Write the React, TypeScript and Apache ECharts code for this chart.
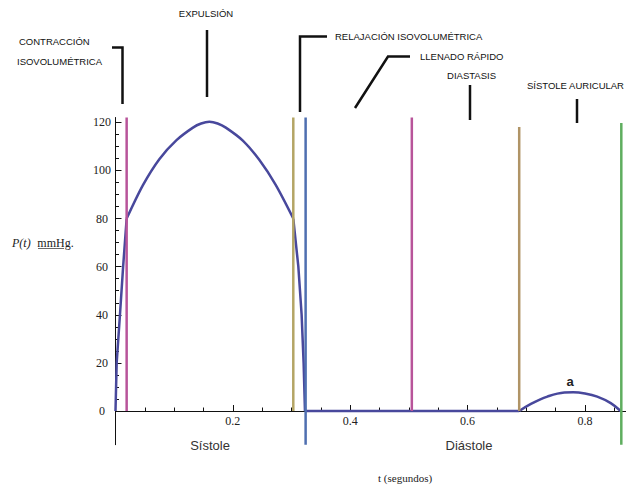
import React, { useEffect, useRef } from "react";
import * as echarts from "echarts";

// Pressure curve segments (t in s, P in mmHg)
const riseT = [0, 0.002, 0.0076, 0.013, 0.019];
const riseP = [0, 20, 40, 60, 80];
const ejectT = [0.019, 0.047, 0.075, 0.104, 0.132, 0.146, 0.16, 0.174, 0.188, 0.217, 0.245, 0.273, 0.303];
const ejectP = [80, 94, 104.8, 112.6, 117.8, 119.5, 120.2, 119.5, 117.8, 112.4, 104.4, 94, 80];
const fallT = [0.303, 0.3116, 0.3172, 0.3206, 0.3229];
const fallP = [80, 60, 40, 20, 0];
const flatT = [0.3229, 0.688];
const flatP = [0, 0];
const atrialT = [0.688, 0.708, 0.736, 0.765, 0.78, 0.8, 0.821, 0.844, 0.861];
const atrialP = [0, 3.0, 6.0, 7.7, 7.8, 7.3, 6.0, 3.3, 0];

// Phase boundary lines
const phaseT = [0.019, 0.303, 0.324, 0.505, 0.688, 0.862];
const phaseBottom = [0, 0, -14, 0, 0, -14];
const phaseTop = [122, 122, 122, 122, 118, 119.7];

// Axis ticks
const xMajorTicks = [0.2, 0.4, 0.6, 0.8];
const xMinorTicks = [0.05, 0.1, 0.15, 0.25, 0.3, 0.35, 0.45, 0.5, 0.55, 0.65, 0.7, 0.75, 0.85];
const yMajorTicks = [0, 20, 40, 60, 80, 100, 120];
const yMinorTicks = [5, 10, 15, 25, 30, 35, 45, 50, 55, 65, 70, 75, 85, 90, 95, 105, 110, 115];

const phaseColors = ["#b8549a", "#b4a565", "#4f6fb0", "#b8549a", "#b09466", "#5fae5f"];
const curveColor = "#48489c";

const zip = (a: number[], b: number[]) => a.map((v, i) => [v, b[i]]);

export default function App() {
  const ref = useRef<HTMLDivElement>(null);
  useEffect(() => {
    if (!ref.current) return;
    const chart = echarts.init(ref.current, null, { renderer: "svg" });
    const serif = '"Liberation Serif", "Times New Roman", serif';
    const sans = '"Liberation Sans", Arial, sans-serif';
    const curveSeries = [
      { d: zip(riseT, riseP), smooth: false },
      { d: zip(ejectT, ejectP), smooth: 0.3 },
      { d: zip(fallT, fallP), smooth: false },
      { d: zip(flatT, flatP), smooth: false },
      { d: zip(atrialT, atrialP), smooth: 0.4 },
    ].map((s) => ({
      type: "line",
      data: s.d,
      smooth: s.smooth,
      showSymbol: false,
      xAxisIndex: 0,
      yAxisIndex: 0,
      lineStyle: { color: curveColor, width: 2.5 },
      z: 2,
    }));
    const phaseSeries = phaseT.map((t, i) => ({
      type: "line",
      data: [
        [t, phaseBottom[i]],
        [t, phaseTop[i]],
      ],
      showSymbol: false,
      xAxisIndex: 0,
      yAxisIndex: 0,
      lineStyle: { color: phaseColors[i], width: 2.5 },
      z: 3,
    }));
    const annotStyle = { fill: "#111", fontSize: 9.5, fontFamily: sans };
    const line = (pts: number[][]) => ({
      type: "polyline",
      shape: { points: pts },
      style: { stroke: "#111", lineWidth: 2.5, fill: null },
    });
    const txt = (text: string, x: number, y: number, align = "left", extra: any = {}) => ({
      type: "text",
      x,
      y,
      style: { ...annotStyle, text, align, verticalAlign: "middle", ...extra },
    });
    chart.setOption({
      animation: false,
      backgroundColor: "#ffffff",
      grid: { left: 115.5, right: -2.8, top: 117.5, bottom: 50.3, containLabel: false },
      xAxis: [
        {
          type: "value",
          position: "bottom",
          min: 0,
          max: 0.87,
          axisLine: { onZero: true, lineStyle: { color: "#111", width: 1 } },
          axisTick: { customValues: xMajorTicks, inside: true, length: 6, lineStyle: { color: "#111" } },
          axisLabel: {
            customValues: xMajorTicks,
            formatter: (v: number) => v.toFixed(1),
            fontFamily: serif,
            fontSize: 12,
            color: "#222",
            margin: -29.5,
          },
          splitLine: { show: false },
        },
        {
          type: "value",
          position: "bottom",
          min: 0,
          max: 0.87,
          axisLine: { show: false, onZero: true },
          axisTick: { customValues: xMinorTicks, inside: true, length: 3.5, lineStyle: { color: "#111" } },
          axisLabel: { show: false },
          splitLine: { show: false },
        },
      ],
      yAxis: [
        {
          type: "value",
          position: "left",
          min: -14,
          max: 122,
          axisLine: { show: true, onZero: false, lineStyle: { color: "#111", width: 1 } },
          axisTick: { show: true, customValues: yMajorTicks, inside: true, length: 6, lineStyle: { color: "#111" } },
          axisLabel: {
            customValues: yMajorTicks,
            fontFamily: serif,
            fontSize: 12,
            color: "#222",
            align: "center",
            margin: 13.5,
          },
          splitLine: { show: false },
        },
        {
          type: "value",
          position: "left",
          min: -14,
          max: 122,
          axisLine: { show: false, onZero: false },
          axisTick: { show: true, customValues: yMinorTicks, inside: true, length: 3.5, lineStyle: { color: "#111" } },
          axisLabel: { show: false },
          splitLine: { show: false },
        },
      ],
      series: [...curveSeries, ...phaseSeries],
      graphic: [
        txt("CONTRACCIÓN", 19, 41),
        txt("ISOVOLUMÉTRICA", 17, 61),
        line([
          [112, 47.5],
          [122.5, 47.5],
          [122.5, 104],
        ]),
        txt("EXPULSIÓN", 206, 13.5, "center"),
        line([
          [207, 30],
          [207, 97],
        ]),
        txt("RELAJACIÓN ISOVOLUMÉTRICA", 335, 36),
        line([
          [327, 36.5],
          [300, 36.5],
          [300, 112],
        ]),
        txt("LLENADO RÁPIDO", 420, 56),
        line([
          [410, 56.5],
          [388, 56.5],
          [355, 108],
        ]),
        txt("DIASTASIS", 471.5, 75, "center"),
        line([
          [470, 85],
          [470, 120],
        ]),
        txt("SÍSTOLE AURICULAR", 527, 85),
        line([
          [577, 99],
          [577, 123],
        ]),
        txt("Sístole", 210, 445, "center", { fontSize: 13, fill: "#333" }),
        txt("Diástole", 469, 445, "center", { fontSize: 13, fill: "#333" }),
        txt("t (segundos)", 378, 478, "left", { fontSize: 11, fontFamily: serif, fill: "#222" }),
        {
          type: "text",
          x: 12,
          y: 243,
          style: {
            text: "{i|P(t)}  {n|mmHg.}",
            verticalAlign: "middle",
            rich: {
              i: { fontFamily: serif, fontStyle: "italic", fontSize: 12, fill: "#222" },
              n: { fontFamily: serif, fontSize: 12, fill: "#222" },
            },
          },
        },
        {
          type: "line",
          shape: { x1: 38, y1: 248.5, x2: 64, y2: 248.5 },
          style: { stroke: "#444", lineWidth: 0.8 },
        },
        txt("a", 570, 381, "center", { fontSize: 13, fontWeight: "bold", fill: "#222" }),
      ],
    });
    return () => chart.dispose();
  }, []);
  return (
    <div
      ref={ref}
      style={{ position: "absolute", left: 0, top: 0, width: 626, height: 495, background: "#fff" }}
    />
  );
}
